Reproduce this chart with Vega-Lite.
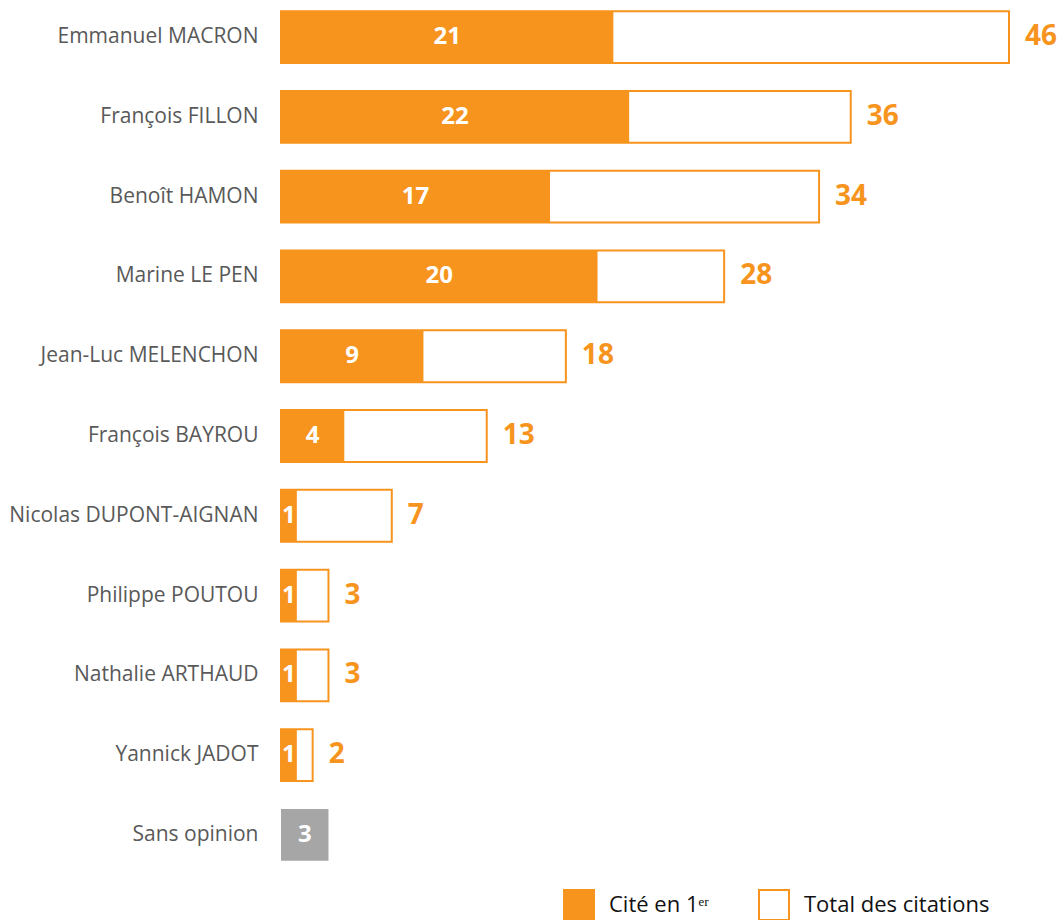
{
  "$schema": "https://vega.github.io/schema/vega-lite/v6.json",
  "width": 728,
  "height": 872,
  "autosize": {"type": "none"},
  "padding": {"left": 281, "top": 0, "right": 49, "bottom": 48},
  "background": "white",
  "config": {"view": {"stroke": null}, "font": "Open Sans"},
  "data": {
    "values": [
      {"candidat": "Emmanuel MACRON", "premier": 21, "total": 46},
      {"candidat": "François FILLON", "premier": 22, "total": 36},
      {"candidat": "Benoît HAMON", "premier": 17, "total": 34},
      {"candidat": "Marine LE PEN", "premier": 20, "total": 28},
      {"candidat": "Jean-Luc MELENCHON", "premier": 9, "total": 18},
      {"candidat": "François BAYROU", "premier": 4, "total": 13},
      {"candidat": "Nicolas DUPONT-AIGNAN", "premier": 1, "total": 7},
      {"candidat": "Philippe POUTOU", "premier": 1, "total": 3},
      {"candidat": "Nathalie ARTHAUD", "premier": 1, "total": 3},
      {"candidat": "Yannick JADOT", "premier": 1, "total": 2},
      {"candidat": "Sans opinion", "premier": 3, "total": null}
    ]
  },
  "encoding": {
    "y": {
      "field": "candidat",
      "type": "nominal",
      "sort": null,
      "scale": {"paddingInner": 0.35, "paddingOuter": 0.14},
      "axis": {
        "title": null,
        "ticks": false,
        "domain": false,
        "labelFontSize": 21,
        "labelColor": "#595959",
        "labelPadding": 23,
        "labelFont": "Open Sans",
        "labelLimit": 300
      }
    }
  },
  "layer": [
    {
      "transform": [{"filter": "datum.total != null"}],
      "mark": {"type": "bar", "stroke": "#F7941D", "strokeWidth": 2},
      "encoding": {
        "x": {"field": "total", "type": "quantitative", "scale": {"domain": [0, 46], "nice": false}, "axis": null},
        "fill": {
          "datum": "Total des citations",
          "type": "nominal",
          "scale": {"domain": ["Cité en 1ᵉʳ", "Total des citations"], "range": ["#F7941D", "#FFFFFF"]},
          "legend": {
            "title": null,
            "orient": "none",
            "legendX": 282,
            "legendY": 889,
            "direction": "horizontal",
            "symbolType": "square",
            "symbolSize": 900,
            "symbolStrokeColor": "#F7941D",
            "symbolStrokeWidth": 2,
            "labelFontSize": 22,
            "labelColor": "#111111",
            "labelFont": "Open Sans",
            "labelOffset": 14,
            "labelLimit": 400,
            "columnPadding": 46
          }
        }
      }
    },
    {
      "mark": {"type": "bar"},
      "encoding": {
        "x": {"field": "premier", "type": "quantitative", "scale": {"domain": [0, 46], "nice": false}, "axis": null},
        "fill": {
          "condition": {"test": "datum.candidat === 'Sans opinion'", "value": "#A6A6A6"},
          "datum": "Cité en 1ᵉʳ",
          "type": "nominal"
        }
      }
    },
    {
      "mark": {"type": "text", "color": "white", "fontWeight": "bold", "fontSize": 24, "baseline": "middle", "align": "center", "font": "Open Sans"},
      "encoding": {
        "x": {"field": "premier", "type": "quantitative", "scale": {"domain": [0, 92], "nice": false}, "axis": null},
        "text": {"field": "premier", "type": "quantitative"}
      }
    },
    {
      "transform": [{"filter": "datum.total != null"}],
      "mark": {"type": "text", "color": "#F7941D", "fontWeight": "bold", "fontSize": 28, "baseline": "middle", "align": "left", "dx": 16, "font": "Open Sans"},
      "encoding": {
        "x": {"field": "total", "type": "quantitative", "scale": {"domain": [0, 46], "nice": false}, "axis": null},
        "text": {"field": "total", "type": "quantitative"}
      }
    }
  ],
  "resolve": {"scale": {"x": "independent"}}
}
